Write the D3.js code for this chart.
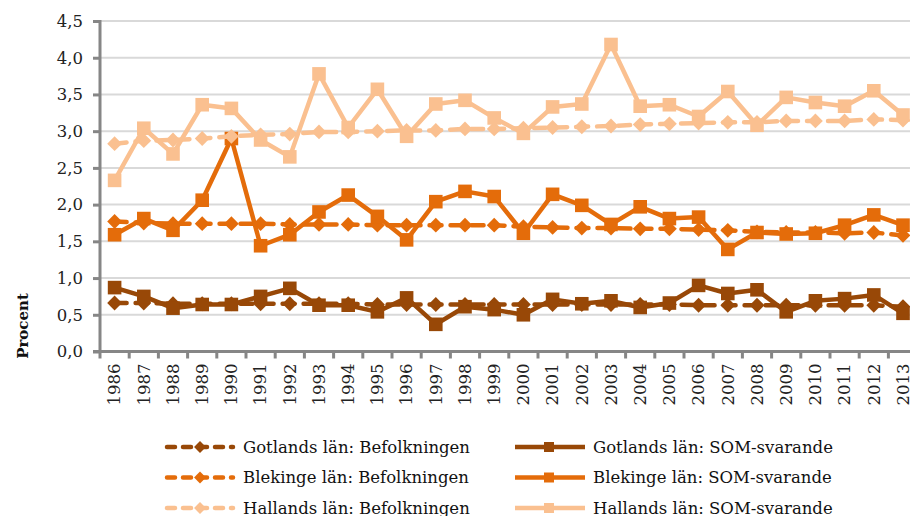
<!DOCTYPE html>
<html>
<head>
<meta charset="utf-8">
<script src="https://cdn.jsdelivr.net/npm/d3@7"></script>
<style>
  body { margin: 0; background: #fff; }
  svg { display: block; font-family: "DejaVu Serif", "Liberation Serif", serif; }
</style>
</head>
<body>
<div id="container"></div>
<script>
// data
let years = ["1986","1987","1988","1989","1990","1991","1992","1993","1994","1995","1996","1997","1998","1999",
             "2000","2001","2002","2003","2004","2005","2006","2007","2008","2009","2010","2011","2012","2013"];

let gotlandBef = [0.66,0.66,0.65,0.65,0.65,0.65,0.65,0.65,0.65,0.64,0.64,0.64,0.64,0.64,
                  0.64,0.64,0.64,0.64,0.64,0.64,0.63,0.63,0.63,0.63,0.63,0.63,0.63,0.61];
let gotlandSom = [0.87,0.75,0.59,0.64,0.64,0.75,0.86,0.63,0.63,0.54,0.73,0.37,0.61,0.57,
                  0.50,0.71,0.65,0.69,0.60,0.66,0.90,0.79,0.84,0.54,0.69,0.72,0.77,0.52];
let blekingeBef = [1.77,1.75,1.74,1.74,1.74,1.74,1.73,1.73,1.73,1.72,1.72,1.72,1.72,1.72,
                   1.70,1.69,1.68,1.68,1.67,1.67,1.66,1.65,1.63,1.62,1.62,1.61,1.62,1.58];
let blekingeSom = [1.59,1.81,1.65,2.06,2.90,1.44,1.59,1.90,2.13,1.84,1.52,2.04,2.18,2.11,
                   1.61,2.14,1.99,1.73,1.97,1.81,1.83,1.39,1.62,1.60,1.61,1.72,1.86,1.72];
let hallandBef = [2.83,2.87,2.88,2.90,2.93,2.95,2.96,2.99,2.99,3.00,3.01,3.01,3.03,3.03,
                  3.04,3.05,3.06,3.07,3.09,3.10,3.11,3.12,3.12,3.14,3.14,3.14,3.16,3.15];
let hallandSom = [2.33,3.04,2.69,3.36,3.31,2.88,2.65,3.78,3.05,3.57,2.93,3.37,3.42,3.18,
                  2.97,3.33,3.37,4.18,3.34,3.36,3.20,3.54,3.08,3.46,3.39,3.34,3.55,3.22];

let yTicks = [0,0.5,1,1.5,2,2.5,3,3.5,4,4.5];
let yTitle = "Procent";

let seriesNames = ["Gotlands län: Befolkningen","Gotlands län: SOM-svarande",
                   "Blekinge län: Befolkningen","Blekinge län: SOM-svarande",
                   "Hallands län: Befolkningen","Hallands län: SOM-svarande"];
let seriesValues = [gotlandBef, gotlandSom, blekingeBef, blekingeSom, hallandBef, hallandSom];
let seriesColors = ["#984807","#984807","#E46C0A","#E46C0A","#FAC090","#FAC090"];
let seriesDashed = [true,false,true,false,true,false];

let w = 910;
let h = 516;
let padLeft = 100;
let padRight = 917.6;
let padTop = 21;
let padBottom = 351.5;

let viz = d3.select("#container")
  .append("svg")
    .attr("width", w)
    .attr("height", h)
;

let xScale = d3.scaleBand().domain(years).range([padLeft, padRight]);
let yScale = d3.scaleLinear().domain([0, 4.5]).range([padBottom, padTop]);
let fmt = d3.format(".1f");

// gridlines
viz.append("g").selectAll("line").data(yTicks.slice(1)).enter()
  .append("line")
    .attr("x1", padLeft).attr("x2", padRight)
    .attr("y1", d => yScale(d)).attr("y2", d => yScale(d))
    .attr("stroke", "#d9d9d9")
    .attr("stroke-width", 2)
;

// y axis
let yAxis = d3.axisLeft(yScale)
  .tickValues(yTicks)
  .tickSize(7)
  .tickPadding(10)
  .tickFormat(d => fmt(d).replace(".", ","));
let yAxisGroup = viz.append("g")
    .attr("transform", "translate(" + padLeft + ",0)")
    .call(yAxis);
yAxisGroup.select(".domain").attr("stroke", "#868686").attr("stroke-width", 3)
  .attr("d", "M0," + (padTop - 1) + "V" + padBottom);
yAxisGroup.selectAll(".tick line").attr("stroke", "#868686").attr("stroke-width", 3);
yAxisGroup.selectAll(".tick text")
  .attr("font-family", "DejaVu Serif")
  .attr("font-size", 16.5)
  .attr("fill", "#222");

// x axis, ticks between categories
let xAxis = d3.axisBottom(xScale).tickSize(0).tickPadding(0);
let xAxisGroup = viz.append("g")
    .attr("transform", "translate(0," + padBottom + ")")
    .call(xAxis);
xAxisGroup.select(".domain").remove();
xAxisGroup.append("line")
  .attr("x1", padLeft - 7).attr("x2", padRight)
  .attr("y1", 0).attr("y2", 0)
  .attr("stroke", "#868686").attr("stroke-width", 3);
xAxisGroup.selectAll(".sep").data(d3.range(years.length + 1)).enter()
  .append("line")
    .attr("class", "sep")
    .attr("x1", i => padLeft + i * xScale.step()).attr("x2", i => padLeft + i * xScale.step())
    .attr("y1", 0).attr("y2", 7)
    .attr("stroke", "#868686").attr("stroke-width", 3);
xAxisGroup.selectAll(".tick text")
  .attr("font-family", "DejaVu Serif")
  .attr("font-size", 16.5)
  .attr("fill", "#222")
  .attr("text-anchor", "end")
  .attr("dy", "0.35em")
  .attr("transform", "translate(0,12) rotate(-90)");

// y title
viz.append("text")
  .attr("transform", "translate(28,326) rotate(-90)")
  .attr("text-anchor", "middle")
  .attr("font-weight", "bold")
  .attr("font-size", 15)
  .attr("fill", "#111")
  .text(yTitle);

// lines and markers
let lineMaker = d3.line()
  .x((d, i) => xScale(years[i]) + xScale.bandwidth() / 2)
  .y(d => yScale(d));

let diamond = d3.symbol().type(d3.symbolDiamond2).size(140);
let square = d3.symbol().type(d3.symbolSquare).size(185);

let graphGroup = viz.append("g").attr("class", "graphGroup");

seriesValues.forEach(function(vals, s){
  let g = graphGroup.append("g");
  g.append("path")
    .datum(vals)
    .attr("d", lineMaker)
    .attr("fill", "none")
    .attr("stroke", seriesColors[s])
    .attr("stroke-width", 4.5)
    .attr("stroke-linejoin", "round")
    .attr("stroke-linecap", seriesDashed[s] ? "round" : "butt")
    .attr("stroke-dasharray", seriesDashed[s] ? "12,9" : null);
  g.selectAll(".pt").data(vals).enter()
    .append("path")
      .attr("class", "pt")
      .attr("d", seriesDashed[s] ? diamond : square)
      .attr("transform", (d, i) => "translate(" + (xScale(years[i]) + xScale.bandwidth() / 2) + "," + yScale(d) + ")")
      .attr("fill", seriesColors[s]);
});

// legend: two columns, three rows
let legend = viz.append("g");
seriesNames.forEach(function(name, s){
  let col = s % 2;
  let row = Math.floor(s / 2);
  let x0 = col === 0 ? 165 : 513;
  let y0 = 447 + row * 30.5;
  let item = legend.append("g").attr("transform", "translate(" + x0 + "," + y0 + ")");
  item.append("line")
    .attr("x1", 2).attr("x2", seriesDashed[s] ? 68 : 72)
    .attr("y1", 0).attr("y2", 0)
    .attr("stroke", seriesColors[s])
    .attr("stroke-width", 4.5)
    .attr("stroke-linecap", seriesDashed[s] ? "round" : "butt")
    .attr("stroke-dasharray", seriesDashed[s] ? "8,8" : null);
  item.append("path")
    .attr("d", seriesDashed[s] ? d3.symbol().type(d3.symbolDiamond2).size(90) : d3.symbol().type(d3.symbolSquare).size(100))
    .attr("transform", "translate(" + (seriesDashed[s] ? 35 : 36) + ",0)")
    .attr("fill", seriesColors[s]);
  item.append("text")
    .attr("x", col === 0 ? 78 : 80)
    .attr("y", 0)
    .attr("dy", "0.35em")
    .attr("font-size", 16.5)
    .attr("fill", "#111")
    .text(name);
});
</script>
</body>
</html>
